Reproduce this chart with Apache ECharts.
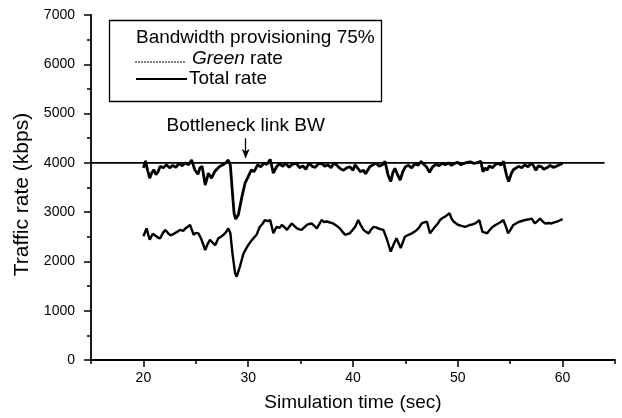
<!DOCTYPE html>
<html>
<head>
<meta charset="utf-8">
<script src="https://cdn.jsdelivr.net/npm/echarts@6/dist/echarts.min.js"></script>
<style>
html,body{margin:0;padding:0;background:#fff;}
#chart{width:622px;height:418px;}
</style>
</head>
<body>
<div id="chart"></div>
<script>
// ---- Data ----
var legendTitle = 'Bandwidth provisioning 75%';
var seriesNames = ['Green rate', 'Total rate'];
var xTitle = 'Simulation time (sec)';
var yTitle = 'Traffic rate (kbps)';
var annotationText = 'Bottleneck link BW';

var totalTime = [20.0,20.2,20.4,20.6,20.8,21.0,21.2,21.4,21.6,21.9,22.2,22.5,22.8,23.1,23.4,23.7,24.0,24.3,24.6,24.9,25.2,25.4,25.6,25.9,26.2,26.5,26.8,27.0,27.3,27.6,27.9,28.1,28.3,28.5,28.65,28.8,29.05,29.4,29.7,30.0,30.3,30.55,30.9,31.2,31.5,31.8,32.1,32.4,32.7,33.0,33.3,33.6,33.9,34.2,34.6,34.9,35.2,35.5,35.8,36.1,36.4,36.7,37.0,37.3,37.6,37.9,38.2,38.5,38.8,39.1,39.4,39.7,40.0,40.2,40.5,40.7,41.0,41.2,41.6,41.9,42.2,42.5,42.8,43.05,43.35,43.6,43.8,44.0,44.25,44.5,44.75,45.0,45.3,45.6,45.9,46.2,46.5,46.8,47.0,47.3,47.6,47.9,48.2,48.5,48.8,49.1,49.4,49.7,50.0,50.3,50.6,50.9,51.2,51.5,51.8,52.2,52.4,52.6,52.8,53.0,53.3,53.6,53.9,54.1,54.35,54.65,54.85,55.1,55.3,55.6,55.8,56.1,56.4,56.7,57.0,57.2,57.45,57.7,58.0,58.2,58.5,58.8,59.1,59.4,59.7,60.0];
var totalRate = [3900,4040,3850,3690,3800,3860,3760,3820,3930,3900,3960,3900,3950,3910,3990,3940,4000,3960,4060,3860,3770,3900,3930,3550,3790,3690,3820,3870,3930,3960,4010,4060,3950,3380,2980,2860,2940,3310,3590,3720,3860,3820,3960,3920,3990,3970,4070,3790,3920,3980,3930,3990,3910,3970,3990,3900,3940,3870,3990,3930,3910,3980,3990,3930,3960,3900,4000,3940,3880,3850,3900,3920,3850,3960,3880,3820,3850,3780,3920,3960,3990,3930,3960,4030,3750,3620,3800,3890,3760,3650,3820,3920,3950,3900,3980,3950,4030,3960,3920,3810,3920,3970,3940,3990,3960,4000,3950,3990,4010,3960,3990,4010,4020,3990,4000,4030,3820,3900,3850,3940,3900,3970,3990,3950,4030,3750,3620,3780,3860,3900,3930,3900,3960,3920,3990,3950,3850,3940,3920,3870,3900,3950,3910,3930,3960,3990];

var greenTime = [20.0,20.3,20.6,20.9,21.1,21.4,21.6,21.9,22.1,22.4,22.6,22.9,23.0,23.3,23.5,23.8,24.0,24.2,24.45,24.8,25.0,25.25,25.55,25.9,26.1,26.35,26.6,26.85,27.15,27.4,27.65,27.9,28.1,28.3,28.5,28.75,28.9,29.2,29.55,29.8,30.0,30.3,30.5,30.8,31.1,31.35,31.6,31.85,32.1,32.4,32.7,33.0,33.2,33.45,33.7,33.9,34.15,34.4,34.65,34.9,35.1,35.35,35.6,35.8,36.05,36.3,36.55,36.8,37.0,37.25,37.5,37.8,38.1,38.4,38.75,39.0,39.25,39.5,39.7,40.0,40.2,40.5,40.75,41.0,41.25,41.5,41.7,41.95,42.2,42.4,42.7,42.9,43.2,43.6,43.9,44.15,44.55,44.95,45.3,45.6,45.85,46.1,46.35,46.55,46.8,47.05,47.35,47.6,47.85,48.1,48.3,48.55,48.8,49.2,49.4,49.6,49.85,50.05,50.35,50.7,50.95,51.15,51.4,51.65,51.85,52.05,52.35,52.55,52.8,53.05,53.3,53.6,53.85,54.1,54.35,54.6,54.8,55.05,55.3,55.55,55.8,56.1,56.4,56.7,57.05,57.35,57.6,57.85,58.1,58.35,58.65,58.95,59.2,59.45,59.7,60.0];
var greenRate = [2510,2670,2440,2560,2530,2480,2470,2590,2640,2560,2530,2560,2570,2610,2640,2620,2670,2700,2740,2540,2580,2570,2440,2230,2340,2440,2380,2330,2470,2500,2540,2600,2670,2570,2160,1760,1690,1890,2160,2260,2330,2420,2470,2540,2700,2760,2840,2820,2840,2570,2700,2680,2740,2700,2640,2700,2770,2720,2670,2650,2640,2690,2740,2760,2770,2720,2670,2760,2840,2800,2810,2790,2770,2730,2670,2600,2540,2560,2570,2650,2700,2840,2730,2640,2600,2570,2640,2700,2690,2670,2650,2640,2470,2200,2360,2470,2270,2500,2540,2570,2600,2640,2700,2770,2790,2810,2570,2640,2710,2770,2840,2880,2910,2980,2870,2810,2770,2740,2720,2700,2720,2740,2750,2770,2800,2840,2600,2590,2570,2640,2700,2740,2770,2800,2840,2700,2570,2650,2740,2770,2800,2820,2840,2850,2870,2770,2820,2870,2810,2770,2780,2770,2790,2810,2830,2860];

var bwTime = [15, 64];
var bwRate = [4000, 4000];

var xMajorTicks = [20, 30, 40, 50, 60];
var yTicks = [0, 1000, 2000, 3000, 4000, 5000, 6000, 7000];

// annotation anchor (data coords)
var arrowTime = 29.76;
var arrowFrom = 4500;
var arrowTo = 4100;

function pairs(xs, ys) {
  var out = [];
  for (var i = 0; i < xs.length; i++) out.push([xs[i], ys[i]]);
  return out;
}

var FONT = '"Liberation Sans", Arial, sans-serif';
var chart = echarts.init(document.getElementById('chart'), null, {renderer: 'canvas'});

var option = {
  animation: false,
  backgroundColor: '#ffffff',
  textStyle: {fontFamily: FONT, color: '#000'},
  grid: {left: 91, right: 7, top: 15, bottom: 58},
  graphic: [
    {
      type: 'rect', left: 107, top: 18, z: 10,
      shape: {width: 272, height: 81},
      style: {fill: 'none', stroke: '#000', lineWidth: 1.3}
    },
    {
      type: 'text', x: 136, y: 38, z: 10,
      style: {text: legendTitle, fontFamily: FONT, fontSize: 19, fill: '#000', verticalAlign: 'middle'}
    },
    {
      type: 'line', z: 10,
      shape: {x1: 135, y1: 62, x2: 186, y2: 62},
      style: {stroke: '#555', lineWidth: 1.4, lineDash: [2, 1]}
    },
    {
      type: 'text', x: 192, y: 59, z: 10,
      style: {
        text: '{i|Green} rate', fontFamily: FONT, fontSize: 19, fill: '#000', verticalAlign: 'middle',
        rich: {i: {fontFamily: FONT, fontSize: 19, fontStyle: 'italic', fill: '#000'}}
      }
    },
    {
      type: 'line', z: 10,
      shape: {x1: 136, y1: 79, x2: 187, y2: 79},
      style: {stroke: '#000', lineWidth: 2.2}
    },
    {
      type: 'text', x: 189, y: 79, z: 10,
      style: {text: seriesNames[1], fontFamily: FONT, fontSize: 19, fill: '#000', verticalAlign: 'middle'}
    }
  ],
  xAxis: [{
    type: 'value',
    min: 15, max: 65, interval: 5,
    name: xTitle, nameLocation: 'middle', nameGap: 33,
    nameTextStyle: {fontFamily: FONT, fontSize: 19, color: '#000'},
    axisLine: {show: true, onZero: false, lineStyle: {color: '#000', width: 1.8}},
    axisTick: {show: true, inside: false, length: 4, lineStyle: {color: '#000', width: 1.5}},
    axisLabel: {
      fontFamily: FONT, fontSize: 14, color: '#000', margin: 11,
      formatter: function (v) { return xMajorTicks.indexOf(v) >= 0 ? String(v) : ''; }
    },
    splitLine: {show: false}
  }, {
    type: 'value',
    min: 15, max: 65,
    position: 'bottom',
    axisLine: {show: false, onZero: false},
    axisTick: {show: true, inside: false, length: 7, customValues: xMajorTicks, lineStyle: {color: '#000', width: 1.5}},
    axisLabel: {show: false},
    splitLine: {show: false}
  }],
  yAxis: {
    type: 'value',
    min: 0, max: 7000, interval: 1000,
    name: yTitle, nameLocation: 'middle', nameGap: 55,
    nameTextStyle: {fontFamily: FONT, fontSize: 21, color: '#000', padding: [0, 14, 0, 0]},
    axisLine: {show: true, onZero: false, lineStyle: {color: '#000', width: 1.8}},
    axisTick: {show: true, inside: false, length: 7, lineStyle: {color: '#000', width: 1.5}},
    minorTick: {show: true, splitNumber: 2, length: 4, lineStyle: {color: '#000', width: 1.5}},
    axisLabel: {
      fontFamily: FONT, fontSize: 14, color: '#000', margin: 16,
      formatter: function (v) { return yTicks.indexOf(v) >= 0 ? String(v) : ''; }
    },
    splitLine: {show: false}
  },
  series: [
    {
      name: 'Bottleneck link BW',
      type: 'line',
      data: pairs(bwTime, bwRate),
      symbol: 'none',
      lineStyle: {color: '#000', width: 1.8},
      z: 2,
      markLine: {
        silent: true,
        symbol: ['none', 'arrow'],
        symbolSize: [6, 9],
        lineStyle: {color: '#000', width: 1.3, type: 'solid'},
        label: {
          show: true, position: 'start', distance: 3,
          formatter: annotationText,
          fontFamily: FONT, fontSize: 19, color: '#000'
        },
        data: [[{coord: [arrowTime, arrowFrom]}, {coord: [arrowTime, arrowTo]}]]
      }
    },
    {
      name: seriesNames[0],
      type: 'line',
      data: pairs(greenTime, greenRate),
      symbol: 'none',
      lineStyle: {color: '#000', width: 2.4},
      z: 3
    },
    {
      name: seriesNames[1],
      type: 'line',
      data: pairs(totalTime, totalRate),
      symbol: 'none',
      lineStyle: {color: '#000', width: 2.8},
      z: 4
    }
  ]
};
chart.setOption(option);
</script>
</body>
</html>
